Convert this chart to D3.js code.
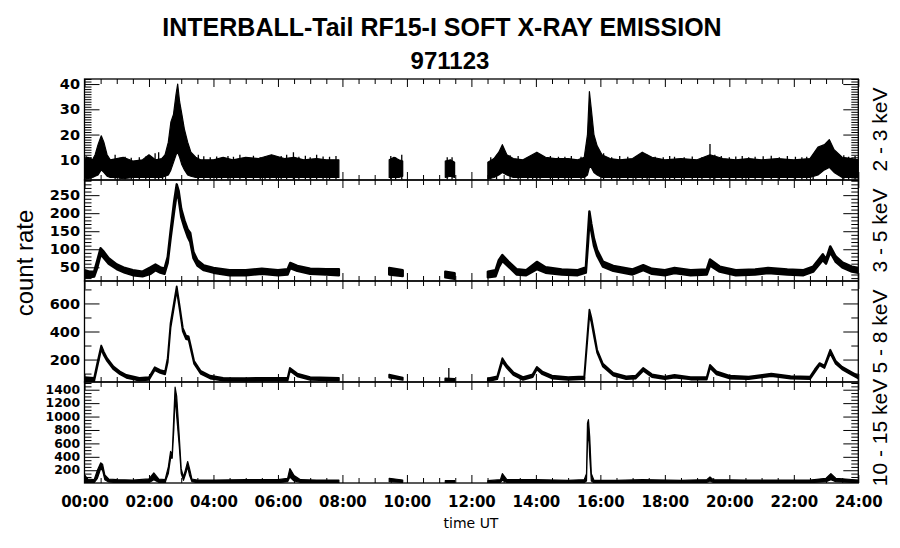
<!DOCTYPE html>
<html><head><meta charset="utf-8">
<script src="https://cdn.jsdelivr.net/npm/d3@7"></script>
<style>body{margin:0;background:#fff} svg{display:block}</style>
</head><body><svg id="chart" width="900" height="548"></svg>
<script>
// ---------------- DATA ----------------
// time in hours UT; null marks a data gap
const xTickHours = [0, 2, 4, 6, 8, 10, 12, 14, 16, 18, 20, 22, 24];
const xTickLabels = ["00:00","02:00","04:00","06:00","08:00","10:00","12:00","14:00","16:00","18:00","20:00","22:00","24:00"];
const bandNames = ["2 - 3 keV", "3 - 5 keV", "5 - 8 keV", "10 - 15 keV"];

// Panel 1: 2 - 3 keV (envelope low / high of noisy count rate)
const p1Time = [0,0.1,0.25,0.33,0.42,0.52,0.6,0.7,0.8,1.0,1.2,1.5,1.8,2.0,2.2,2.4,2.5,2.6,2.68,2.76,2.84,2.89,2.95,3.02,3.1,3.2,3.3,3.45,3.6,4.0,4.3,4.6,5.0,5.4,5.8,6.2,6.5,6.8,7.2,7.5,7.89,
  8.6, 9.45,9.6,9.75,9.87, 10.5, 11.19,11.35,11.48, 12,
  12.51,12.7,12.85,12.96,13.1,13.3,13.6,14.03,14.3,14.6,15.0,15.3,15.5,15.6,15.66,15.72,15.8,15.9,16.05,16.3,16.6,17.0,17.3,17.6,18.0,18.5,19.0,19.4,19.8,20.2,20.6,21.0,21.5,22.0,22.5,22.75,22.95,23.1,23.25,23.5,23.8,24];
const p1Low = [3,2.5,3,3.5,4,6,5,3.5,3,3,2.5,3,3,3,3,3,3.5,4,6,9,12,13,11,8,6,4,3.5,3,3,3,3,3,3,3,3,3,3,3,3,3,3,
  null, 3,3,3,3.5, null, 3,3.5,3, null,
  2.5,3,4,5,4,3,3,3,3,3,3,3,3,4,7,7,5,4,3,3,3,3,3,3,3,3,3,3,3,3,3,3,3,3,3,4,6,7,5,3,3,3];
const p1High = [10,11,10,12,16,19.5,17,12,10,10.5,11,9.5,10,12,10,10.5,12,17,25,28,36,40,33,28,22,17,13,11,10,10,11,10,11,10.5,12,10.5,11,10,10.5,10,10,
  null, 10,11,10,9.5, null, 9.5,10,9, null,
  9,10.5,13,16,12,10.5,10,13,11,10.5,10.5,10,11,20,37,30,20,15.5,12,10.5,10,10.5,13,11,10,10.5,10,12,10.5,10,10.5,10,10.5,10,10.5,15,16,18,14,11,10.5,10];
// isolated noise spikes on panel 1 (time, top value)
const p1SpikeTime = [0.05,0.2,0.95,1.1,1.26,1.45,1.7,1.9,2.19,2.3,2.42,3.53,3.7,3.9,4.1,4.25,4.45,4.62,4.82,5.0,5.24,5.45,5.6,5.75,5.95,6.1,6.27,6.48,6.65,6.85,7.0,7.2,7.4,7.6,7.8,
  9.5,9.65,9.84, 11.25,11.4,
  12.6,12.78,13.2,13.45,13.75,13.9,14.03,14.13,14.45,14.7,14.9,15.1,15.4,16.1,16.35,16.6,16.85,17.1,17.3,17.45,17.7,17.95,18.15,18.3,18.6,18.85,19.15,19.4,19.55,19.75,20.0,20.2,20.4,20.6,20.8,21.05,21.3,21.55,21.8,22.05,22.25,22.4,22.6,23.55,23.7,23.9];
const p1SpikeTop = [11.5,11,12,10.8,11.2,10.8,11,11.3,12.6,13,11,12,11.4,11,11.3,10.8,11.5,11.2,12,11,11.6,11,11.2,11.6,11.3,11.5,12,13,11.2,11.6,11,12,11.3,11.2,11.5,
  11.5,11,12, 11,11,
  11,12,11.8,11.5,11,11.5,12.6,12.3,11.5,11.2,11.2,11.5,11.2,12.6,11,11.5,11.2,11.5,12.6,12,11.2,11,11.5,11.2,11,11.3,11,16.3,12,11.5,11,11.3,11.5,11,11.2,11.4,11.6,11,11.5,11.2,11,11.2,11.5,11.8,11.2,11.5];

// Panel 2: 3 - 5 keV
const p2Time = [0,0.15,0.3,0.4,0.5,0.58,0.75,1.0,1.25,1.5,1.8,2.05,2.2,2.35,2.48,2.58,2.67,2.78,2.86,2.92,3.0,3.1,3.2,3.28,3.38,3.5,3.7,4.0,4.5,5.0,5.5,6.0,6.3,6.38,6.6,7.0,7.5,7.89,
  8.6, 9.45,9.87, 10.5, 11.19,11.48, 12,
  12.51,12.75,12.85,12.96,13.15,13.4,13.7,14.03,14.3,14.8,15.3,15.55,15.62,15.66,15.72,15.8,15.9,16.08,16.4,17.0,17.33,17.6,18.0,18.3,18.8,19.3,19.4,19.7,20.2,20.8,21.2,21.8,22.3,22.6,22.9,23.0,23.13,23.3,23.5,23.8,24];
const p2Low = [22,22,24,50,85,78,60,45,35,28,25,32,42,35,32,62,130,205,255,240,190,160,135,120,75,55,42,35,28,28,32,28,30,48,40,32,30,28,
  null, 30,26, null, 22,18, null,
  22,25,50,68,52,30,28,45,35,30,28,35,120,180,150,110,82,52,40,30,42,32,28,34,28,30,55,38,28,30,34,30,28,38,70,60,92,65,50,38,35];
const p2High = [42,38,38,70,103,95,75,58,48,42,38,50,58,50,46,78,150,232,280,262,212,180,155,145,92,70,55,48,42,42,46,42,45,62,54,46,45,45,
  null, 48,42, null, 38,34, null,
  38,42,70,84,66,45,42,65,50,44,42,50,150,205,170,130,98,66,54,44,56,46,42,48,42,44,72,52,42,44,48,44,42,52,86,72,108,80,64,52,48];

// Panel 3: 5 - 8 keV
const p3Time = [0,0.3,0.4,0.52,0.6,0.7,0.9,1.1,1.3,1.7,2.0,2.18,2.35,2.5,2.58,2.67,2.75,2.86,2.95,3.05,3.15,3.23,3.3,3.4,3.6,3.9,4.3,5.0,5.6,6.3,6.37,6.6,7.0,7.89,
  8.6, 9.45,9.87, 10.5, 11.19,11.48, 12,
  12.51,12.8,12.96,13.1,13.3,13.6,13.9,14.03,14.2,14.5,15.0,15.5,15.6,15.66,15.72,15.8,15.9,16.08,16.4,16.8,17.1,17.33,17.6,18.0,18.3,18.8,19.3,19.4,19.6,20.0,20.6,21.3,21.9,22.5,22.65,22.8,22.95,23.13,23.3,23.5,23.8,24];
const p3Low = [45,45,150,275,230,190,130,95,70,50,55,125,105,95,180,430,540,695,560,400,345,340,270,170,100,65,50,48,50,50,120,80,55,50,
  null, 72,55, null, 48,45, null,
  45,60,185,140,90,55,75,130,95,65,55,60,350,525,470,370,250,150,85,60,65,120,75,60,72,58,58,140,95,65,60,82,65,60,110,160,140,245,170,130,90,65];
const p3High = [75,70,180,300,255,210,150,115,90,70,75,145,125,115,210,460,570,722,585,425,370,365,295,190,120,85,70,68,70,70,140,100,75,70,
  null, 92,72, null, 65,62, null,
  65,80,210,160,110,75,95,148,115,85,75,80,380,555,500,400,270,170,105,80,85,140,95,78,90,75,75,162,115,85,78,100,82,78,130,175,158,270,190,148,110,85];
const p3SpikeTime = [11.3];
const p3SpikeTop = [140];

// Panel 4: 10 - 15 keV
const p4Time = [0,0.1,0.3,0.4,0.5,0.56,0.63,0.75,1.0,1.5,2.0,2.15,2.3,2.5,2.6,2.67,2.72,2.77,2.81,2.86,2.94,3.0,3.07,3.14,3.2,3.26,3.33,3.5,4.0,5.0,6.0,6.3,6.37,6.5,6.7,7.2,7.89,
  8.6, 9.45,9.87, 10.5, 11.19,11.48, 12,
  12.51,12.9,12.96,13.1,14.0,15.0,15.5,15.57,15.6,15.63,15.67,15.72,15.8,16.5,17.3,18.5,19.3,19.4,19.5,20.5,21.5,22.5,23.0,23.15,23.3,24];
const p4Low = [15,15,15,80,220,200,60,25,15,15,15,60,20,20,150,380,380,800,1300,1000,550,150,50,150,250,120,30,15,15,15,15,30,100,40,20,15,15,
  null, 30,20, null, 15,15, null,
  15,20,50,20,20,15,20,40,600,800,400,40,15,15,20,15,20,40,20,15,15,15,30,60,30,15];
const p4High = [130,70,60,200,310,290,130,70,60,55,70,160,70,60,250,480,440,1000,1440,1300,700,220,100,220,330,220,70,55,55,60,60,80,225,120,60,55,55,
  null, 80,55, null, 45,45, null,
  45,60,150,60,60,50,60,150,900,955,700,150,50,50,60,50,60,100,60,55,55,55,80,150,80,55];

// axis tick values
const p1Major = [10,20,30,40];
const p2Major = [50,100,150,200,250];
const p3Major = [200,400,600];
const p4Major = [200,400,600,800,1000,1200,1400];

// ---------------- DRAWING ----------------
const svg = d3.select("#chart");
const X0 = 84.5, X1 = 858.3;
const x = d3.scaleLinear().domain([0, 24]).range([X0, X1]);
const panelTops = [79, 180, 281, 382];
const panelH = 101;

const panels = [
  {domain:[2,42],   major:p1Major, minorStep:1,  time:p1Time, lo:p1Low, hi:p1High, spT:p1SpikeTime, spV:p1SpikeTop, spBase:2.2, sw:1.2, fs:14.5},
  {domain:[12,292], major:p2Major, minorStep:10, time:p2Time, lo:p2Low, hi:p2High, spT:[], spV:[], spBase:0, sw:2.4, fs:14.5},
  {domain:[40,760], major:p3Major, minorStep:100,time:p3Time, lo:p3Low, hi:p3High, spT:p3SpikeTime, spV:p3SpikeTop, spBase:55, sw:1.8, fs:14.5},
  {domain:[10,1515],major:p4Major, minorStep:50, time:p4Time, lo:p4Low, hi:p4High, spT:[], spV:[], spBase:0, sw:1.2, fs:11.5}
];

const halfHours = d3.range(0, 24.01, 0.5);
const labelFont = "'DejaVu Sans', sans-serif";

panels.forEach((p, i) => {
  const top = panelTops[i], bot = top + panelH;
  const y = d3.scaleLinear().domain(p.domain).range([bot, top]);
  const g = svg.append("g");

  const clipId = "clip" + i;
  svg.append("clipPath").attr("id", clipId)
    .append("rect").attr("x", X0).attr("y", top).attr("width", X1 - X0).attr("height", panelH);

  const rows = p.time.map((t, k) => ({t: t, lo: p.lo[k], hi: p.hi[k]}));
  const area = d3.area()
    .defined(d => d.lo != null && d.hi != null)
    .x(d => x(d.t)).y0(d => y(d.lo)).y1(d => y(d.hi));
  g.append("path").attr("clip-path", `url(#${clipId})`)
    .attr("d", area(rows)).attr("fill", "#000").attr("stroke", "#000").attr("stroke-width", p.sw)
    .attr("stroke-linejoin", "round");

  g.selectAll("line.spike").data(p.spT.map((t, k) => ({t: t, v: p.spV[k]}))).join("line")
    .attr("class", "spike").attr("clip-path", `url(#${clipId})`)
    .attr("x1", d => x(d.t)).attr("x2", d => x(d.t))
    .attr("y1", y(p.spBase)).attr("y2", d => y(d.v))
    .attr("stroke", "#000").attr("stroke-width", 1.3);

  g.append("rect").attr("x", X0).attr("y", top).attr("width", X1 - X0).attr("height", panelH)
    .attr("fill", "none").attr("stroke", "#000").attr("stroke-width", 1.3);

  const minors = d3.range(Math.ceil(p.domain[0] / p.minorStep) * p.minorStep, p.domain[1] + 1e-9, p.minorStep)
    .filter(v => !p.major.includes(v));
  const yl = g.append("g").attr("transform", `translate(${X0},0)`)
    .call(d3.axisLeft(y).tickValues(p.major).tickSize(-15).tickSizeOuter(0).tickPadding(4.5).tickFormat(d3.format("d")));
  const ylm = g.append("g").attr("transform", `translate(${X0},0)`)
    .call(d3.axisLeft(y).tickValues(minors).tickSize(-7).tickSizeOuter(0).tickFormat(""));
  const yr = g.append("g").attr("transform", `translate(${X1},0)`)
    .call(d3.axisRight(y).tickValues(p.major).tickSize(-15).tickSizeOuter(0).tickFormat(""));
  const yrm = g.append("g").attr("transform", `translate(${X1},0)`)
    .call(d3.axisRight(y).tickValues(minors).tickSize(-7).tickSizeOuter(0).tickFormat(""));

  const xtMaj = g.append("g").attr("transform", `translate(0,${top})`)
    .call(d3.axisTop(x).tickValues(xTickHours).tickSize(-8).tickSizeOuter(0).tickFormat(""));
  const xtMin = g.append("g").attr("transform", `translate(0,${top})`)
    .call(d3.axisTop(x).tickValues(halfHours.filter(h => h % 2 !== 0)).tickSize(-5).tickSizeOuter(0).tickFormat(""));
  const xbMaj = g.append("g").attr("transform", `translate(0,${bot})`)
    .call(d3.axisBottom(x).tickValues(xTickHours).tickSize(-8).tickSizeOuter(0).tickPadding(13)
      .tickFormat((d, k) => i === 3 ? xTickLabels[k] : ""));
  const xbMin = g.append("g").attr("transform", `translate(0,${bot})`)
    .call(d3.axisBottom(x).tickValues(halfHours.filter(h => h % 2 !== 0)).tickSize(-5).tickSizeOuter(0).tickFormat(""));

  [yl, ylm, yr, yrm, xtMaj, xtMin, xbMaj, xbMin].forEach(a => {
    a.select(".domain").remove();
    a.selectAll(".tick line").attr("stroke", "#000").attr("stroke-width", 1);
    a.selectAll("text").attr("fill", "#000").style("font-family", labelFont).style("font-weight", "bold");
  });
  yl.selectAll("text").style("font-size", p.fs + "px");
  if (i === 3) {
    yl.selectAll("text").attr("textLength", d => String(d).length * 8.6).attr("lengthAdjust", "spacingAndGlyphs");
  }
  xbMaj.selectAll("text").style("font-size", "15px");

  svg.append("text")
    .attr("transform", `translate(887,${top + panelH / 2}) rotate(-90)`)
    .attr("text-anchor", "middle")
    .style("font-family", "'Liberation Sans', Arial, sans-serif").style("font-size", "21px")
    .attr("fill", "#000").text(bandNames[i]);
});

svg.append("text").attr("x", 442).attr("y", 36).attr("text-anchor", "middle")
  .style("font-family", "'Liberation Sans', Arial, sans-serif").style("font-size", "25px").style("font-weight", "bold")
  .text("INTERBALL-Tail RF15-I SOFT X-RAY EMISSION");
svg.append("text").attr("x", 450).attr("y", 69).attr("text-anchor", "middle")
  .style("font-family", "'Liberation Sans', Arial, sans-serif").style("font-size", "24px").style("font-weight", "bold")
  .text("971123");

svg.append("text").attr("transform", "translate(33,263) rotate(-90)").attr("text-anchor", "middle")
  .style("font-family", "'Liberation Sans', Arial, sans-serif").style("font-size", "24px")
  .text("count rate");

svg.append("text").attr("x", 471).attr("y", 528).attr("text-anchor", "middle")
  .style("font-family", labelFont).style("font-size", "14px")
  .text("time UT");
</script>
</body></html>
